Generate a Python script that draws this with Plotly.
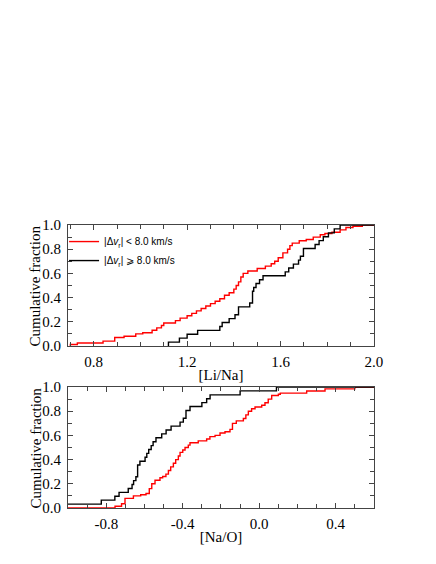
import plotly.graph_objects as go
from plotly.subplots import make_subplots

# 累積分布（ステップ位置と各ステップ後の値）
# 上段 [Li/Na]
lina_red_x = [0.70, 0.70, 0.73, 0.84, 0.89, 0.93, 0.98, 1.01, 1.05, 1.07, 1.09, 1.10,
              1.15, 1.17, 1.20, 1.22, 1.24, 1.26, 1.28, 1.30, 1.32, 1.34, 1.36, 1.38,
              1.40, 1.41, 1.42, 1.43, 1.44, 1.46, 1.50, 1.535, 1.56, 1.575, 1.59, 1.61,
              1.63, 1.64, 1.65, 1.68, 1.71, 1.74, 1.77, 1.79, 1.82, 1.855, 1.88, 1.91,
              1.95, 2.0]
lina_red_y = [0.0, 0.012, 0.025, 0.04, 0.07, 0.08, 0.10, 0.11, 0.13, 0.15, 0.17, 0.19,
              0.21, 0.23, 0.25, 0.27, 0.29, 0.31, 0.33, 0.35, 0.37, 0.39, 0.42, 0.44,
              0.47, 0.50, 0.53, 0.57, 0.60, 0.62, 0.64, 0.66, 0.68, 0.70, 0.73, 0.77,
              0.80, 0.83, 0.85, 0.87, 0.88, 0.90, 0.92, 0.93, 0.94, 0.96, 0.98, 0.99,
              1.0, 1.0]

lina_blk_x = [1.12, 1.12, 1.167, 1.20, 1.245, 1.34, 1.35, 1.38, 1.405, 1.42, 1.468,
              1.48, 1.485, 1.495, 1.51, 1.525, 1.62, 1.635, 1.655, 1.677, 1.685, 1.698,
              1.748, 1.765, 1.783, 1.805, 1.83, 1.855, 2.0]
lina_blk_y = [0.0, 0.032, 0.065, 0.097, 0.129, 0.161, 0.194, 0.226, 0.258, 0.323, 0.355,
              0.452, 0.484, 0.516, 0.548, 0.581, 0.613, 0.645, 0.677, 0.71, 0.742, 0.806,
              0.839, 0.871, 0.903, 0.935, 0.968, 1.0, 1.0]

# 下段 [Na/O]
nao_red_x = [-1.0, -0.754, -0.72, -0.702, -0.658, -0.62, -0.592, -0.575, -0.562, -0.545,
             -0.519, -0.505, -0.488, -0.475, -0.463, -0.449, -0.437, -0.423, -0.414, -0.40,
             -0.388, -0.371, -0.362, -0.319, -0.275, -0.258, -0.231, -0.205, -0.179,
             -0.153, -0.14, -0.12, -0.083, -0.07, -0.057, -0.04, -0.022, 0.013, 0.03,
             0.047, 0.065, 0.10, 0.11, 0.248, 0.344, 0.50, 0.6]
nao_red_y = [0.0, 0.014, 0.035, 0.08, 0.10, 0.11, 0.12, 0.16, 0.20, 0.23,
             0.25, 0.26, 0.28, 0.31, 0.34, 0.37, 0.40, 0.43, 0.46, 0.48,
             0.50, 0.52, 0.54, 0.555, 0.57, 0.59, 0.60, 0.62, 0.63,
             0.65, 0.70, 0.72, 0.74, 0.77, 0.80, 0.82, 0.835, 0.85, 0.87,
             0.90, 0.93, 0.94, 0.95, 0.967, 0.985, 1.0, 1.0]

nao_blk_x = [-1.0, -0.826, -0.755, -0.733, -0.685, -0.665, -0.657, -0.645, -0.636, -0.624,
             -0.597, -0.588, -0.578, -0.565, -0.555, -0.54, -0.51, -0.487, -0.461, -0.414,
             -0.397, -0.383, -0.362, -0.30, -0.275, -0.257, -0.10, 0.09, 0.6]
nao_blk_y = [0.032, 0.065, 0.097, 0.129, 0.161, 0.194, 0.226, 0.258, 0.355, 0.387,
             0.419, 0.452, 0.484, 0.516, 0.548, 0.581, 0.613, 0.645, 0.677, 0.71,
             0.742, 0.806, 0.839, 0.871, 0.903, 0.935, 0.968, 1.0, 1.0]

# 目盛り
lina_ticks = [0.8, 1.2, 1.6, 2.0]
lina_labels = ['0.8', '1.2', '1.6', '2.0']
nao_ticks = [-0.8, -0.4, 0.0, 0.4]
nao_labels = ['-0.8', '-0.4', '0.0', '0.4']
frac_ticks = [0.0, 0.2, 0.4, 0.6, 0.8, 1.0]
frac_labels = ['0.0', '0.2', '0.4', '0.6', '0.8', '1.0']

legend_red = '|Δ<i>v</i><sub>r</sub>| < 8.0 km/s'
legend_blk = '|Δ<i>v</i><sub>r</sub>| ⩾ 8.0 km/s'
ytitle = 'Cumulative fraction'

fig = make_subplots(rows=2, cols=1)

fig.add_trace(go.Scatter(x=lina_red_x, y=lina_red_y, mode='lines', line_shape='hv',
                         line=dict(color='#ff0000', width=1.4), name=legend_red),
              row=1, col=1)
fig.add_trace(go.Scatter(x=lina_blk_x, y=lina_blk_y, mode='lines', line_shape='hv',
                         line=dict(color='black', width=1.4), name=legend_blk),
              row=1, col=1)
fig.add_trace(go.Scatter(x=nao_red_x, y=nao_red_y, mode='lines', line_shape='hv',
                         line=dict(color='#ff0000', width=1.4), showlegend=False),
              row=2, col=1)
fig.add_trace(go.Scatter(x=nao_blk_x, y=nao_blk_y, mode='lines', line_shape='hv',
                         line=dict(color='black', width=1.4), showlegend=False),
              row=2, col=1)

serif = 'Liberation Serif, Times New Roman, serif'
minor = dict(dtick=0.1, ticks='inside', ticklen=4, tickcolor='#444')
axis_common = dict(
    showline=True, linecolor='#444', linewidth=1, mirror='ticks',
    ticks='inside', ticklen=5, tickcolor='#444', showgrid=False, zeroline=False,
    automargin=False, minor=minor,
    tickfont=dict(family=serif, size=15, color='black'),
    title_font=dict(family=serif, size=15, color='black'),
)

fig.update_xaxes(**axis_common)
fig.update_yaxes(**axis_common)

# ページ余白（約8px）を見込んだ配置
xdom = [0.1402, 0.8551]
top_dom = [0.3921, 0.6097]
bot_dom = [0.1007, 0.3183]
fig.update_xaxes(range=[0.69, 2.0], tickvals=lina_ticks, ticktext=lina_labels,
                 ticklabelstandoff=2, title_text='[Li/Na]', title_standoff=0,
                 domain=xdom, row=1, col=1)
fig.update_xaxes(range=[-1.0, 0.6], tickvals=nao_ticks, ticktext=nao_labels,
                 ticklabelstandoff=2, title_text='[Na/O]', title_standoff=0,
                 domain=xdom, row=2, col=1)
fig.update_yaxes(range=[0, 1.0], tickvals=frac_ticks, ticktext=frac_labels,
                 ticklabelstandoff=3, domain=top_dom, row=1, col=1)
fig.update_yaxes(range=[0, 1.0], tickvals=frac_ticks, ticktext=frac_labels,
                 ticklabelstandoff=3, domain=bot_dom, row=2, col=1)

# 縦軸タイトル
for dom in (top_dom, bot_dom):
    fig.add_annotation(text=ytitle, textangle=-90, showarrow=False,
                       xref='paper', yref='paper', x=0.0654, y=(dom[0] + dom[1]) / 2,
                       xanchor='center', yanchor='middle',
                       font=dict(family=serif, size=15, color='black'))

fig.update_layout(
    width=428, height=556,
    margin=dict(l=0, r=0, t=0, b=0),
    template='none',
    paper_bgcolor='white', plot_bgcolor='white',
    showlegend=True,
    legend=dict(x=0.131, y=0.606, xanchor='left', yanchor='top',
                bgcolor='rgba(0,0,0,0)', itemwidth=30, tracegroupgap=0,
                font=dict(family='Liberation Sans, Arial, sans-serif', size=10, color='black')),
)

fig.write_html("out.html")
